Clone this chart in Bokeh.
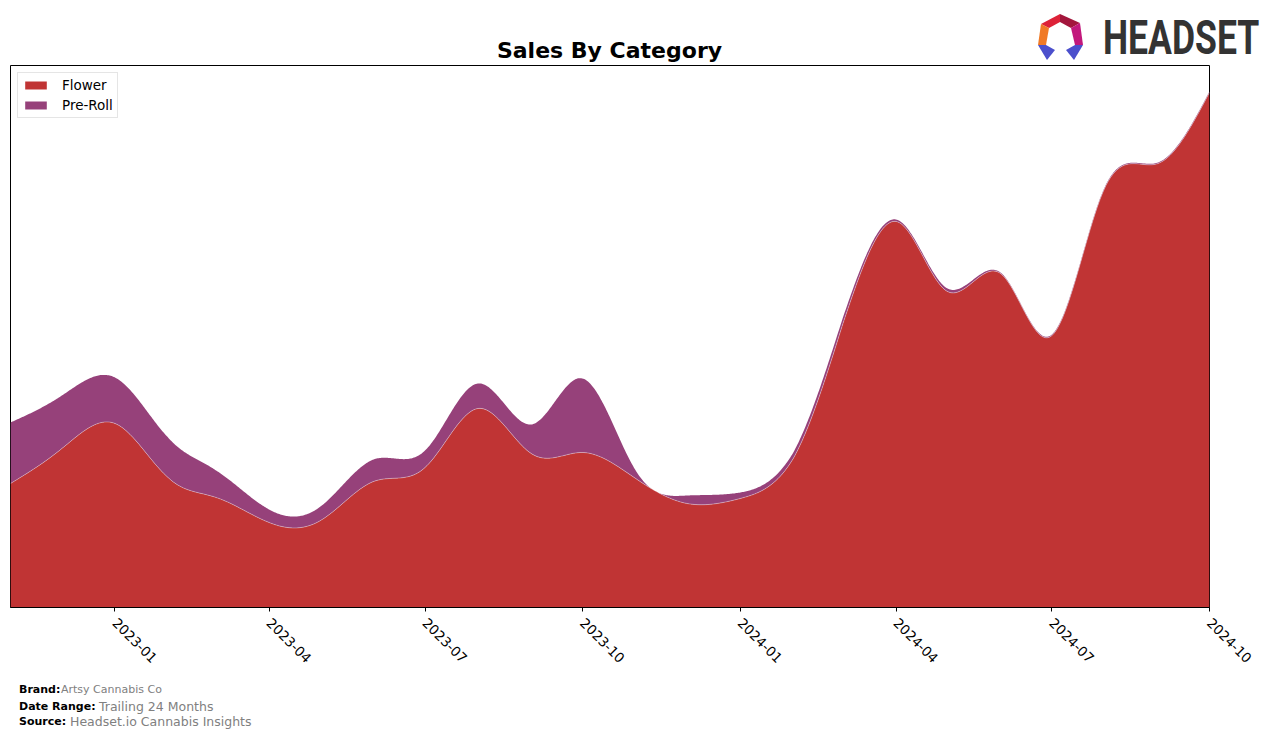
import numpy as np
from datetime import datetime
from bokeh.plotting import figure
from bokeh.layouts import column
from bokeh.models import Range1d, FixedTicker, DatetimeTickFormatter, Legend, LegendItem, Div
from bokeh.embed import file_html
from bokeh.resources import INLINE

# ---------------- data (monthly) ----------------
months = ["2022-11", "2022-12", "2023-01", "2023-02", "2023-03", "2023-04",
          "2023-05", "2023-06", "2023-07", "2023-08", "2023-09", "2023-10",
          "2023-11", "2023-12", "2024-01", "2024-02", "2024-03", "2024-04",
          "2024-05", "2024-06", "2024-07", "2024-08", "2024-09", "2024-10"]
flower = [124, 159, 184, 130, 110, 85, 87, 126, 140, 199, 154, 155,
          129, 104, 109, 149, 284, 386, 316, 334, 272, 420, 444, 515]
preroll = [61, 53, 46, 40, 27, 13, 14, 22, 17, 25, 29, 74,
           8, 8, 6, 6, 6, 2, 3, 1, 1, 1, 1, 1]
tick_labels = ["2023-01", "2023-04", "2023-07", "2023-10",
               "2024-01", "2024-04", "2024-07", "2024-10"]
title_text = "Sales By Category"
brand = "Artsy Cannabis Co"
date_range = "Trailing 24 Months"
source = "Headset.io Cannabis Insights"

FLOWER_COLOR = "#C03434"
PREROLL_COLOR = "#96417A"


def to_ms(s):
    d = datetime.strptime(s, "%Y-%m")
    return (d - datetime(1970, 1, 1)).total_seconds() * 1000.0


def natural_spline(y, t):
    """Natural cubic spline through (i, y[i]) evaluated at t (for smooth drawing)."""
    y = np.asarray(y, dtype=float)
    n = len(y)
    A = np.zeros((n, n))
    b = np.zeros(n)
    A[0, 0] = 1.0
    A[-1, -1] = 1.0
    for i in range(1, n - 1):
        A[i, i - 1] = 1.0
        A[i, i] = 4.0
        A[i, i + 1] = 1.0
        b[i] = 6.0 * (y[i + 1] - 2 * y[i] + y[i - 1])
    M = np.linalg.solve(A, b)
    i = np.clip(np.floor(t).astype(int), 0, n - 2)
    u = t - i
    return ((1 - u) * y[i] + u * y[i + 1]
            + ((1 - u) ** 3 - (1 - u)) * M[i] / 6.0
            + (u ** 3 - u) * M[i + 1] / 6.0)


month_ms = np.array([to_ms(m) for m in months])
idx = np.arange(len(months), dtype=float)
t = np.linspace(0, len(months) - 1, 1200)
x_fine = np.interp(t, idx, month_ms)
flower_s = natural_spline(flower, t)
pre_s = np.clip(natural_spline(preroll, t), 0, None)
total_s = flower_s + pre_s

W = 1276
TOP_H, MAIN_H, FOOT_H = 64, 616, 58

# ---------------- header: title + logo (HTML) ----------------
logo_polys = [
    ("3,9 22,-1 22,7 11,13", "#DD2238"),
    ("22,-1 42,8 33,13 22,7", "#A3163C"),
    ("42,8 45,30 37,30 33,13", "#C2187C"),
    ("3,9 11,13 8,30 0,30", "#F07A26"),
    ("0,30 8,30 17,35 9,45", "#4B4FCC"),
    ("37,30 45,30 36,45 28,35", "#4B4FCC"),
    ("9,45 17,35 13,40", "#25287E"),
    ("36,45 28,35 32,40", "#25287E"),
]
svg_polys = "".join(f'<polygon points="{pts}" fill="{c}"/>' for pts, c in logo_polys)
header_html = (
    f'<div style="position:relative;width:{W}px;height:{TOP_H}px;margin:0;padding:0;">'
    f'<span style="position:absolute;left:609.5px;top:38px;transform:translateX(-50%);'
    f'font-family:\'DejaVu Sans\';font-weight:bold;font-size:22px;line-height:26px;'
    f'color:#000;white-space:nowrap;">{title_text}</span>'
    f'<svg style="position:absolute;left:1038px;top:14px;overflow:visible;" width="46" height="47" '
    f'viewBox="0 -1 46 47">{svg_polys}</svg>'
    f'<span style="position:absolute;left:1103px;top:10px;transform:scaleX(0.74);'
    f'transform-origin:left center;font-family:Roboto;font-weight:bold;font-size:48px;'
    f'line-height:56px;color:#333333;white-space:nowrap;">HEADSET</span>'
    f'</div>'
)
top = Div(text=header_html, width=W, height=TOP_H, margin=0)

# ---------------- main chart ----------------
p = figure(width=W, height=MAIN_H, output_backend="svg", toolbar_location=None,
           x_axis_type="datetime",
           x_range=Range1d(month_ms[0], month_ms[-1]),
           y_range=Range1d(0, 542),
           min_border_left=10, min_border_right=67,
           min_border_top=1, min_border_bottom=73, margin=0)
p.background_fill_color = "white"
p.border_fill_color = "white"
p.outline_line_color = "black"
p.outline_line_width = 1
p.grid.visible = False
p.yaxis.visible = False

r_flower = p.varea(x=x_fine, y1=0, y2=flower_s, fill_color=FLOWER_COLOR)
r_pre = p.varea(x=x_fine, y1=flower_s, y2=total_s, fill_color=PREROLL_COLOR)
p.line(x=x_fine, y=flower_s, line_color="white", line_alpha=0.45, line_width=0.8)

xa = p.xaxis[0]
xa.ticker = FixedTicker(ticks=[to_ms(s) for s in tick_labels])
xa.formatter = DatetimeTickFormatter(years="%Y-%m", months="%Y-%m", days="%Y-%m",
                                     hours="%Y-%m", minutes="%Y-%m")
xa.major_label_orientation = -np.pi / 4
xa.major_label_text_font = "DejaVu Sans"
xa.major_label_text_font_size = "13.5px"
xa.major_label_text_color = "black"
xa.major_label_standoff = 9
xa.major_tick_in = 0
xa.major_tick_out = 4
xa.minor_tick_in = 0
xa.minor_tick_out = 0
xa.axis_line_color = "black"
xa.major_tick_line_color = "black"

legend = Legend(items=[LegendItem(label="Flower", renderers=[r_flower]),
                       LegendItem(label="Pre-Roll", renderers=[r_pre])],
                location="top_left")
legend.margin = 7
legend.padding = 4
legend.spacing = 4
legend.glyph_width = 27
legend.glyph_height = 10
legend.label_height = 15
legend.label_standoff = 13
legend.label_text_font = "DejaVu Sans"
legend.label_text_font_size = "13.5px"
legend.label_text_color = "black"
legend.border_line_color = "#cccccc"
legend.border_line_width = 1
legend.background_fill_alpha = 0.8
p.add_layout(legend)

# ---------------- footer (HTML) ----------------
rows = [("Brand:", brand, 10, 61, 11), ("Date Range:", date_range, 27, 99, 12.5),
        ("Source:", source, 42, 70, 12.5)]
spans = ""
for bold, rest, cy, xr, fs in rows:
    spans += (f'<span style="position:absolute;left:19px;top:{cy - 8}px;line-height:16px;'
              f'font-family:\'DejaVu Sans\';font-weight:bold;font-size:11px;color:#000;'
              f'white-space:nowrap;">{bold}</span>')
    spans += (f'<span style="position:absolute;left:{xr}px;top:{cy - 8}px;line-height:16px;'
              f'font-family:\'DejaVu Sans\';font-size:{fs}px;color:#808080;'
              f'white-space:nowrap;">{rest}</span>')
footer_html = (f'<div style="position:relative;width:{W}px;height:{FOOT_H}px;margin:0;'
               f'padding:0;">{spans}</div>')
foot = Div(text=footer_html, width=W, height=FOOT_H, margin=0)

layout = column(top, p, foot, spacing=0, margin=0)
open("out.html", "w").write(file_html(layout, INLINE))
